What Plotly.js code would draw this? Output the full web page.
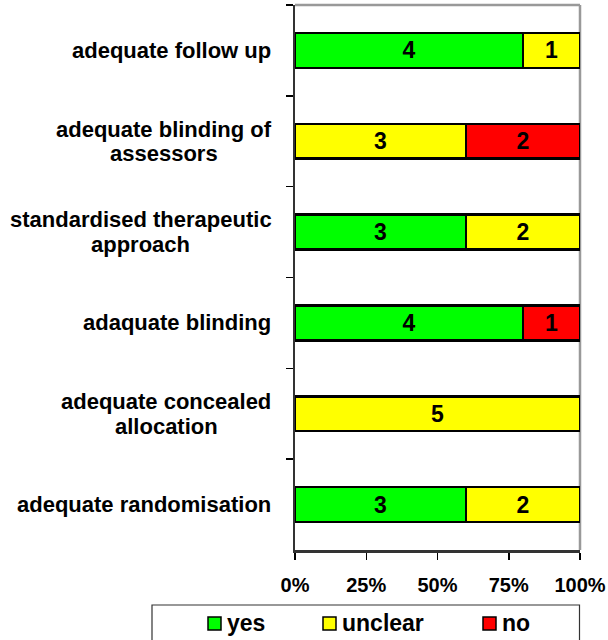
<!DOCTYPE html>
<html>
<head>
<meta charset="utf-8">
<script src="https://cdn.plot.ly/plotly-3.0.1.min.js"></script>
<style>
  html, body { margin: 0; padding: 0; background: #ffffff; }
  #chart { width: 608px; height: 640px; }
</style>
</head>
<body>
<div id="chart"></div>
<script>
// ---- data ----
var categories = [
  "adequate follow up",
  "adequate blinding of<br>assessors",
  "standardised therapeutic<br>approach",
  "adaquate blinding",
  "adequate concealed<br>allocation",
  "adequate randomisation"
];
var seriesNames = ["yes", "unclear", "no"];
var yesValues     = [4, 0, 3, 4, 0, 3];
var unclearValues = [1, 3, 2, 0, 5, 2];
var noValues      = [0, 2, 0, 1, 0, 0];
var xTickValues = [0, 25, 50, 75, 100];
var xTickLabels = ["0%", "25%", "50%", "75%", "100%"];

var colors = ["#00ff00", "#ffff00", "#ff0000"];
var FONT = "Liberation Sans, Arial, sans-serif";

function labelsFor(vals) { return vals.map(function (v) { return v ? String(v) : ""; }); }

var seriesValues = [yesValues, unclearValues, noValues];
var traces = seriesValues.map(function (vals, i) {
  return {
    type: "bar",
    orientation: "h",
    name: seriesNames[i],
    y: categories,
    x: vals,
    text: labelsFor(vals),
    textposition: "inside",
    insidetextanchor: "middle",
    constraintext: "none",
    textfont: { family: FONT, size: 23, color: "#000000", weight: "bold" },
    marker: { color: colors[i], line: { color: "#000000", width: 2.5 } },
    hoverinfo: "skip",
    showlegend: false
  };
});

// plot geometry helpers (pixel -> paper)
var L = 295, R = 580, T = 5, B = 550;
function px(x) { return (x - L) / (R - L); }
function py(y) { return (B - y) / (B - T); }

var annotations = [];
var LINE_GAP = 24.5;
var LABEL_GAP = 23.5;
var ctx = document.createElement("canvas").getContext("2d");
ctx.font = "bold 22px Liberation Sans, Arial, sans-serif";
categories.forEach(function (c) {
  var lines = c.split("<br>");
  var n = lines.length;
  var widest = Math.max.apply(null, lines.map(function (l) { return ctx.measureText(l).width; }));
  lines.forEach(function (ln, k) {
    annotations.push({
      xref: "paper", yref: "y", x: 0, y: c,
      xanchor: "center", yanchor: "middle",
      xshift: -LABEL_GAP - widest / 2, yshift: ((n - 1) / 2 - k) * LINE_GAP,
      text: ln, showarrow: false,
      font: { family: FONT, size: 22, color: "#000000", weight: "bold" }
    });
  });
});

var shapes = [
  // gray plot-area border (top/right)
  { type: "line", xref: "paper", yref: "paper", x0: 0, x1: 1, y0: 1, y1: 1, layer: "below",
    line: { color: "#999999", width: 2.5 } },
  { type: "line", xref: "paper", yref: "paper", x0: 1, x1: 1, y0: 0, y1: 1, layer: "below",
    line: { color: "#999999", width: 2.5 } },
  // legend box
  { type: "rect", xref: "paper", yref: "paper", x0: px(152), x1: px(579.5), y0: py(650), y1: py(605),
    line: { color: "#333333", width: 1.2 }, fillcolor: "rgba(0,0,0,0)" }
];
var legendMarkerX = [208, 323, 483];
var legendTextX = [225, 340, 500];
seriesNames.forEach(function (n, i) {
  shapes.push({ type: "rect", xref: "paper", yref: "paper",
    x0: px(legendMarkerX[i]), x1: px(legendMarkerX[i] + 13), y0: py(630), y1: py(617),
    fillcolor: colors[i], line: { color: "#000000", width: 1.5 } });
  annotations.push({ xref: "paper", yref: "paper", x: px(legendTextX[i]), y: py(623),
    xanchor: "left", yanchor: "middle", text: n, showarrow: false,
    font: { family: FONT, size: 23, color: "#000000", weight: "bold" } });
});

var layout = {
  width: 608, height: 640,
  margin: { l: L, r: 608 - R, t: T, b: 640 - B, pad: 0 },
  paper_bgcolor: "#ffffff", plot_bgcolor: "#ffffff",
  barmode: "stack", barnorm: "percent", bargap: 0.615,
  showlegend: false,
  xaxis: {
    range: [0, 100], tickmode: "array", tickvals: xTickValues, ticktext: xTickLabels,
    ticks: "outside", ticklen: 7, tickwidth: 1.5, tickcolor: "#000000",
    showline: true, linecolor: "#333333", linewidth: 2.5,
    showgrid: false, zeroline: false, ticklabelstandoff: 8,
    tickfont: { family: FONT, size: 20, color: "#000000", weight: "bold" },
    fixedrange: true
  },
  yaxis: {
    type: "category", autorange: "reversed", tickson: "boundaries",
    ticks: "outside", ticklen: 7, tickwidth: 1.5, tickcolor: "#000000",
    showticklabels: false, showline: true, linecolor: "#333333", linewidth: 2.5,
    showgrid: false, zeroline: false, fixedrange: true
  },
  annotations: annotations,
  shapes: shapes
};

Plotly.newPlot("chart", traces, layout, { displayModeBar: false, staticPlot: true });
</script>
</body>
</html>
